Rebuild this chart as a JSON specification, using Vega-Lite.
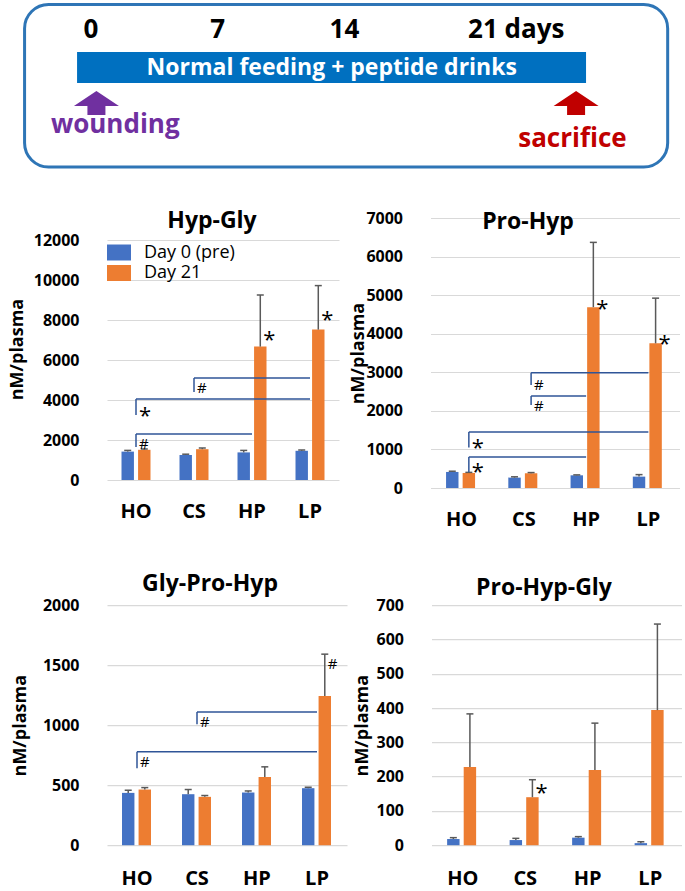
{
  "$schema": "https://vega.github.io/schema/vega-lite/v6.json",
  "background": "white",
  "padding": {"left": 8, "top": 0, "right": 0, "bottom": 0},
  "spacing": 36,
  "columns": 1,
  "align": "none",
  "resolve": {"scale": {"color": "independent"}, "legend": {"color": "independent"}},
  "config": {
    "font": "Open Sans",
    "view": {"stroke": null},
    "axis": {"domain": false, "ticks": false, "tickSize": 0, "labelFont": "Open Sans", "labelFontWeight": "bold", "labelColor": "#000000", "titleFont": "Open Sans", "titleFontWeight": "bold", "titleColor": "#000000", "titleFontSize": 18},
    "axisY": {"grid": true, "gridColor": "#D9D9D9", "gridWidth": 1.2, "labelFontSize": 16, "labelPadding": 28, "labelOverlap": false},
    "axisX": {"grid": false, "labelFontSize": 20, "labelAngle": 0, "labelPadding": 21},
    "title": {"font": "Open Sans", "fontSize": 23, "fontWeight": "bold", "color": "#000000", "anchor": "middle", "frame": "group", "baseline": "alphabetic"},
    "legend": {"labelFont": "Open Sans", "labelFontSize": 18, "labelColor": "#000000", "padding": 0, "rowPadding": 2.5, "symbolStrokeWidth": 0},
    "text": {"font": "Open Sans", "color": "#000000"}
  },
  "datasets": {
    "tlDays": [{"day": 0, "label": "0"}, {"day": 7, "label": "7"}, {"day": 14, "label": "14"}, {"day": 21, "label": "21 days"}],
    "tlPhase": [{"start": -0.77, "end": 27.35, "mid": 13.3, "text": "Normal feeding + peptide drinks"}],
    "tlEvents": [{"event": "wounding", "arrow": 0.3, "labelPos": 1.34}, {"event": "sacrifice", "arrow": 26.8, "labelPos": 26.6}],
    "hg": [
      {"group": "HO", "day": "Day 0 (pre)", "value": 1420, "upper": 1480},
      {"group": "HO", "day": "Day 21", "value": 1510, "upper": 1550},
      {"group": "CS", "day": "Day 0 (pre)", "value": 1250, "upper": 1290},
      {"group": "CS", "day": "Day 21", "value": 1540, "upper": 1600},
      {"group": "HP", "day": "Day 0 (pre)", "value": 1380, "upper": 1480},
      {"group": "HP", "day": "Day 21", "value": 6670, "upper": 9250},
      {"group": "LP", "day": "Day 0 (pre)", "value": 1460, "upper": 1500},
      {"group": "LP", "day": "Day 21", "value": 7520, "upper": 9720}
    ],
    "hgBr": [
      {"from": "CS", "to": "LP", "level": 5100, "drop": 4400},
      {"from": "HO", "to": "LP", "level": 4050, "drop": 3250},
      {"from": "HO", "to": "HP", "level": 2300, "drop": 1650}
    ],
    "hgNotes": [
      {"group": "HP", "on": "bar", "sig": "*", "at": 7300},
      {"group": "LP", "on": "bar", "sig": "*", "at": 8300},
      {"group": "CS", "on": "bracket", "sig": "#", "at": 4650},
      {"group": "HO", "on": "bracket", "sig": "*", "at": 3500},
      {"group": "HO", "on": "bracket", "sig": "#", "at": 1850}
    ],
    "ph": [
      {"group": "HO", "day": "Day 0 (pre)", "value": 416, "upper": 435},
      {"group": "HO", "day": "Day 21", "value": 390, "upper": 405},
      {"group": "CS", "day": "Day 0 (pre)", "value": 269, "upper": 290},
      {"group": "CS", "day": "Day 21", "value": 382, "upper": 400},
      {"group": "HP", "day": "Day 0 (pre)", "value": 329, "upper": 340},
      {"group": "HP", "day": "Day 21", "value": 4688, "upper": 6368},
      {"group": "LP", "day": "Day 0 (pre)", "value": 295, "upper": 347},
      {"group": "LP", "day": "Day 21", "value": 3751, "upper": 4922}
    ],
    "phBr": [
      {"from": "CS", "to": "LP", "level": 2989, "drop": 2668},
      {"from": "CS", "to": "HP", "level": 2382, "drop": 2149},
      {"from": "HO", "to": "LP", "level": 1455, "drop": 1048},
      {"from": "HO", "to": "HP", "level": 806, "drop": 416}
    ],
    "phNotes": [
      {"group": "HP", "on": "bar", "sig": "*", "at": 4792},
      {"group": "LP", "on": "bar", "sig": "*", "at": 3882},
      {"group": "CS", "on": "bracket", "sig": "#", "at": 2694},
      {"group": "CS", "on": "bracket", "sig": "#", "at": 2149},
      {"group": "HO", "on": "bracket", "sig": "*", "at": 1196},
      {"group": "HO", "on": "bracket", "sig": "*", "at": 563}
    ],
    "gph": [
      {"group": "HO", "day": "Day 0 (pre)", "value": 436, "upper": 458},
      {"group": "HO", "day": "Day 21", "value": 464, "upper": 480},
      {"group": "CS", "day": "Day 0 (pre)", "value": 425, "upper": 464},
      {"group": "CS", "day": "Day 21", "value": 403, "upper": 414},
      {"group": "HP", "day": "Day 0 (pre)", "value": 439, "upper": 452},
      {"group": "HP", "day": "Day 21", "value": 569, "upper": 653},
      {"group": "LP", "day": "Day 0 (pre)", "value": 475, "upper": 483},
      {"group": "LP", "day": "Day 21", "value": 1244, "upper": 1592}
    ],
    "gphBr": [
      {"from": "CS", "to": "LP", "level": 1111, "drop": 1008},
      {"from": "HO", "to": "LP", "level": 778, "drop": 642}
    ],
    "gphNotes": [
      {"group": "LP", "on": "bar", "sig": "#", "at": 1517},
      {"group": "CS", "on": "bracket", "sig": "#", "at": 1036},
      {"group": "HO", "on": "bracket", "sig": "#", "at": 702}
    ],
    "phg": [
      {"group": "HO", "day": "Day 0 (pre)", "value": 18, "upper": 22},
      {"group": "HO", "day": "Day 21", "value": 228, "upper": 383},
      {"group": "CS", "day": "Day 0 (pre)", "value": 15, "upper": 20},
      {"group": "CS", "day": "Day 21", "value": 140, "upper": 191},
      {"group": "HP", "day": "Day 0 (pre)", "value": 22, "upper": 25},
      {"group": "HP", "day": "Day 21", "value": 219, "upper": 356},
      {"group": "LP", "day": "Day 0 (pre)", "value": 6, "upper": 10},
      {"group": "LP", "day": "Day 21", "value": 394, "upper": 645}
    ],
    "phgNotes": [
      {"group": "CS", "on": "bar", "sig": "*", "at": 171}
    ]
  },
  "concat": [
    {
      "width": 573,
      "height": 173,
      "layer": [
        {
          "data": {"values": [{"part": "frame"}]},
          "mark": {"type": "rect", "filled": false, "stroke": "#2E75B6", "strokeWidth": 3, "cornerRadius": 24},
          "encoding": {
            "x": {"datum": -3.67, "type": "quantitative", "scale": {"domain": [0.884, 32.541], "nice": false, "zero": false}, "axis": null},
            "x2": {"datum": 31.86},
            "y": {"datum": 4.5, "type": "quantitative", "scale": {"domain": [0, 173], "reverse": true, "nice": false, "zero": false}, "axis": null},
            "y2": {"datum": 167}
          }
        },
        {
          "data": {"name": "tlPhase"},
          "mark": {"type": "rect", "color": "#0070C0"},
          "encoding": {
            "x": {"field": "start", "type": "quantitative"},
            "x2": {"field": "end"},
            "y": {"datum": 52, "type": "quantitative"},
            "y2": {"datum": 83}
          }
        },
        {
          "data": {"name": "tlPhase"},
          "mark": {"type": "text", "color": "#FFFFFF", "fontSize": 23, "fontWeight": "bold"},
          "encoding": {
            "x": {"field": "mid", "type": "quantitative"},
            "y": {"datum": 68.3, "type": "quantitative"},
            "text": {"field": "text"}
          }
        },
        {
          "data": {"name": "tlDays"},
          "transform": [{"filter": "datum.day < 21"}],
          "mark": {"type": "text", "fontSize": 26, "fontWeight": "bold"},
          "encoding": {
            "x": {"field": "day", "type": "quantitative"},
            "y": {"datum": 29.5, "type": "quantitative"},
            "text": {"field": "label"}
          }
        },
        {
          "data": {"name": "tlDays"},
          "transform": [{"filter": "datum.day >= 21"}],
          "mark": {"type": "text", "fontSize": 26, "fontWeight": "bold", "align": "left", "dx": -3},
          "encoding": {
            "x": {"field": "day", "type": "quantitative"},
            "y": {"datum": 29.5, "type": "quantitative"},
            "text": {"field": "label"}
          }
        },
        {
          "data": {"name": "tlEvents"},
          "mark": {"type": "point", "shape": "M0,-0.533L1,0.133L0.4,0.133L0.4,0.533L-0.4,0.533L-0.4,0.133L-1,0.133Z", "size": 2025, "filled": true, "opacity": 1, "strokeWidth": 0},
          "encoding": {
            "x": {"field": "arrow", "type": "quantitative"},
            "y": {"datum": 103, "type": "quantitative"},
            "color": {"field": "event", "type": "nominal", "scale": {"domain": ["wounding", "sacrifice"], "range": ["#7030A0", "#C00000"]}, "legend": null}
          }
        },
        {
          "data": {"name": "tlEvents"},
          "transform": [{"filter": "datum.event === 'wounding'"}],
          "mark": {"type": "text", "fontSize": 26, "fontWeight": "bold", "baseline": "alphabetic"},
          "encoding": {
            "x": {"field": "labelPos", "type": "quantitative"},
            "y": {"datum": 133, "type": "quantitative"},
            "text": {"field": "event"},
            "color": {"field": "event", "type": "nominal", "legend": null}
          }
        },
        {
          "data": {"name": "tlEvents"},
          "transform": [{"filter": "datum.event === 'sacrifice'"}],
          "mark": {"type": "text", "fontSize": 26, "fontWeight": "bold", "baseline": "alphabetic"},
          "encoding": {
            "x": {"field": "labelPos", "type": "quantitative"},
            "y": {"datum": 146.5, "type": "quantitative"},
            "text": {"field": "event"},
            "color": {"field": "event", "type": "nominal", "legend": null}
          }
        }
      ]
    },
    {
      "spacing": 43.2,
      "resolve": {"scale": {"color": "independent"}, "legend": {"color": "independent"}},
      "vconcat": [
        {
          "spacing": 10.5,
          "resolve": {"scale": {"color": "independent"}, "legend": {"color": "independent"}},
          "hconcat": [
            {
              "width": 232,
              "height": 262,
              "title": {"text": "Hyp-Gly", "offset": -14.6, "dx": -11},
              "layer": [
                {
                  "data": {"name": "hg"},
                  "mark": {"type": "bar"},
                  "encoding": {
                    "x": {"field": "group", "type": "nominal", "title": null, "scale": {"domain": ["HO", "CS", "HP", "LP"], "paddingInner": 0.5, "paddingOuter": 0.25}, "axis": {"labelPadding": 21}},
                    "xOffset": {"field": "day", "type": "nominal", "scale": {"domain": ["Day 0 (pre)", "Day 21"], "paddingInner": 0.25, "paddingOuter": 0}},
                    "y": {"field": "value", "type": "quantitative", "title": "nM/plasma", "scale": {"domain": [0, 13100], "nice": false}, "axis": {"values": [0, 2000, 4000, 6000, 8000, 10000, 12000], "tickCount": 20, "format": "d", "titleX": -80.5}},
                    "color": {"field": "day", "type": "nominal", "scale": {"domain": ["Day 0 (pre)", "Day 21"], "range": ["#4472C4", "#ED7D31"]},
                      "legend": {"title": null, "orient": "none", "legendX": 3, "legendY": 25.5, "symbolType": "M-1.5,-1H1.5V1H-1.5Z", "symbolSize": 256, "labelOffset": 16, "direction": "vertical"}}
                  }
                },
                {
                  "data": {"name": "hg"},
                  "mark": {"type": "rule", "color": "#595959", "strokeWidth": 1.5},
                  "encoding": {
                    "x": {"field": "group", "type": "nominal", "title": null},
                    "xOffset": {"field": "day", "type": "nominal"},
                    "y": {"field": "value", "type": "quantitative", "title": "nM/plasma"},
                    "y2": {"field": "upper"}
                  }
                },
                {
                  "data": {"name": "hg"},
                  "mark": {"type": "tick", "orient": "horizontal", "color": "#595959", "thickness": 1.5, "size": 7, "opacity": 1},
                  "encoding": {
                    "x": {"field": "group", "type": "nominal", "title": null},
                    "xOffset": {"field": "day", "type": "nominal"},
                    "y": {"field": "upper", "type": "quantitative", "title": "nM/plasma"}
                  }
                },
                {
                  "data": {"name": "hgBr"},
                  "mark": {"type": "rule", "color": "#2F5597", "strokeWidth": 1.5},
                  "encoding": {
                    "x": {"field": "from", "type": "nominal", "title": null},
                    "x2": {"field": "to"},
                    "y": {"field": "level", "type": "quantitative", "title": "nM/plasma"}
                  }
                },
                {
                  "data": {"name": "hgBr"},
                  "mark": {"type": "rule", "color": "#2F5597", "strokeWidth": 1.5},
                  "encoding": {
                    "x": {"field": "from", "type": "nominal", "title": null},
                    "y": {"field": "level", "type": "quantitative", "title": "nM/plasma"},
                    "y2": {"field": "drop"}
                  }
                },
                {
                  "data": {"name": "hgNotes"},
                  "transform": [{"filter": "datum.on === 'bar' && datum.sig === '*'"}],
                  "mark": {"type": "text", "align": "left", "dx": 3, "dy": 6, "fontSize": 22},
                  "encoding": {
                    "x": {"field": "group", "type": "nominal", "title": null},
                    "xOffset": {"datum": "Day 21", "type": "nominal"},
                    "y": {"field": "at", "type": "quantitative", "title": "nM/plasma"},
                    "text": {"field": "sig"}
                  }
                },
                {
                  "data": {"name": "hgNotes"},
                  "transform": [{"filter": "datum.on === 'bracket' && datum.sig === '*'"}],
                  "mark": {"type": "text", "align": "left", "dx": 3, "dy": 6, "fontSize": 22},
                  "encoding": {
                    "x": {"field": "group", "type": "nominal", "title": null},
                    "y": {"field": "at", "type": "quantitative", "title": "nM/plasma"},
                    "text": {"field": "sig"}
                  }
                },
                {
                  "data": {"name": "hgNotes"},
                  "transform": [{"filter": "datum.on === 'bracket' && datum.sig === '#'"}],
                  "mark": {"type": "text", "align": "left", "dx": 3, "dy": 1, "fontSize": 15},
                  "encoding": {
                    "x": {"field": "group", "type": "nominal", "title": null},
                    "y": {"field": "at", "type": "quantitative", "title": "nM/plasma"},
                    "text": {"field": "sig"}
                  }
                }
              ]
            },
            {
              "width": 249,
              "height": 270,
              "title": {"text": "Pro-Hyp", "offset": -24.1, "dx": -27},
              "layer": [
                {
                  "data": {"name": "ph"},
                  "mark": {"type": "bar"},
                  "encoding": {
                    "x": {"field": "group", "type": "nominal", "title": null, "scale": {"domain": ["HO", "CS", "HP", "LP"], "paddingInner": 0.5, "paddingOuter": 0.25}, "axis": {"labelPadding": 21}},
                    "xOffset": {"field": "day", "type": "nominal", "scale": {"domain": ["Day 0 (pre)", "Day 21"], "paddingInner": 0.25, "paddingOuter": 0}},
                    "y": {"field": "value", "type": "quantitative", "title": "nM/plasma", "scale": {"domain": [0, 7000], "nice": false}, "axis": {"values": [0, 1000, 2000, 3000, 4000, 5000, 6000, 7000], "tickCount": 20, "format": "d", "titleX": -63}},
                    "color": {"field": "day", "type": "nominal", "scale": {"domain": ["Day 0 (pre)", "Day 21"], "range": ["#4472C4", "#ED7D31"]}, "legend": null}
                  }
                },
                {
                  "data": {"name": "ph"},
                  "mark": {"type": "rule", "color": "#595959", "strokeWidth": 1.5},
                  "encoding": {
                    "x": {"field": "group", "type": "nominal", "title": null},
                    "xOffset": {"field": "day", "type": "nominal"},
                    "y": {"field": "value", "type": "quantitative", "title": "nM/plasma"},
                    "y2": {"field": "upper"}
                  }
                },
                {
                  "data": {"name": "ph"},
                  "mark": {"type": "tick", "orient": "horizontal", "color": "#595959", "thickness": 1.5, "size": 7, "opacity": 1},
                  "encoding": {
                    "x": {"field": "group", "type": "nominal", "title": null},
                    "xOffset": {"field": "day", "type": "nominal"},
                    "y": {"field": "upper", "type": "quantitative", "title": "nM/plasma"}
                  }
                },
                {
                  "data": {"name": "phBr"},
                  "mark": {"type": "rule", "color": "#2F5597", "strokeWidth": 1.5},
                  "encoding": {
                    "x": {"field": "from", "type": "nominal", "title": null},
                    "x2": {"field": "to"},
                    "xOffset": {"datum": "Day 21", "type": "nominal"},
                    "y": {"field": "level", "type": "quantitative", "title": "nM/plasma"}
                  }
                },
                {
                  "data": {"name": "phBr"},
                  "mark": {"type": "rule", "color": "#2F5597", "strokeWidth": 1.5},
                  "encoding": {
                    "x": {"field": "from", "type": "nominal", "title": null},
                    "xOffset": {"datum": "Day 21", "type": "nominal"},
                    "y": {"field": "level", "type": "quantitative", "title": "nM/plasma"},
                    "y2": {"field": "drop"}
                  }
                },
                {
                  "data": {"name": "phNotes"},
                  "transform": [{"filter": "datum.sig === '*'"}],
                  "mark": {"type": "text", "align": "left", "dx": 3, "dy": 6, "fontSize": 22},
                  "encoding": {
                    "x": {"field": "group", "type": "nominal", "title": null},
                    "xOffset": {"datum": "Day 21", "type": "nominal"},
                    "y": {"field": "at", "type": "quantitative", "title": "nM/plasma"},
                    "text": {"field": "sig"}
                  }
                },
                {
                  "data": {"name": "phNotes"},
                  "transform": [{"filter": "datum.sig === '#'"}],
                  "mark": {"type": "text", "align": "left", "dx": 3, "dy": 1, "fontSize": 15},
                  "encoding": {
                    "x": {"field": "group", "type": "nominal", "title": null},
                    "xOffset": {"datum": "Day 21", "type": "nominal"},
                    "y": {"field": "at", "type": "quantitative", "title": "nM/plasma"},
                    "text": {"field": "sig"}
                  }
                }
              ]
            }
          ]
        },
        {
          "spacing": 6.5,
          "resolve": {"scale": {"color": "independent"}, "legend": {"color": "independent"}},
          "hconcat": [
            {
              "width": 240,
              "height": 240,
              "title": {"text": "Gly-Pro-Hyp", "offset": 1.4, "dx": -17},
              "layer": [
                {
                  "data": {"name": "gph"},
                  "mark": {"type": "bar"},
                  "encoding": {
                    "x": {"field": "group", "type": "nominal", "title": null, "scale": {"domain": ["HO", "CS", "HP", "LP"], "paddingInner": 0.5, "paddingOuter": 0.25}, "axis": {"labelPadding": 23}},
                    "xOffset": {"field": "day", "type": "nominal", "scale": {"domain": ["Day 0 (pre)", "Day 21"], "paddingInner": 0.25, "paddingOuter": 0}},
                    "y": {"field": "value", "type": "quantitative", "title": "nM/plasma", "scale": {"domain": [0, 2000], "nice": false}, "axis": {"values": [0, 500, 1000, 1500, 2000], "tickCount": 20, "format": "d", "titleX": -78}},
                    "color": {"field": "day", "type": "nominal", "scale": {"domain": ["Day 0 (pre)", "Day 21"], "range": ["#4472C4", "#ED7D31"]}, "legend": null}
                  }
                },
                {
                  "data": {"name": "gph"},
                  "mark": {"type": "rule", "color": "#595959", "strokeWidth": 1.5},
                  "encoding": {
                    "x": {"field": "group", "type": "nominal", "title": null},
                    "xOffset": {"field": "day", "type": "nominal"},
                    "y": {"field": "value", "type": "quantitative", "title": "nM/plasma"},
                    "y2": {"field": "upper"}
                  }
                },
                {
                  "data": {"name": "gph"},
                  "mark": {"type": "tick", "orient": "horizontal", "color": "#595959", "thickness": 1.5, "size": 7, "opacity": 1},
                  "encoding": {
                    "x": {"field": "group", "type": "nominal", "title": null},
                    "xOffset": {"field": "day", "type": "nominal"},
                    "y": {"field": "upper", "type": "quantitative", "title": "nM/plasma"}
                  }
                },
                {
                  "data": {"name": "gphBr"},
                  "mark": {"type": "rule", "color": "#2F5597", "strokeWidth": 1.5},
                  "encoding": {
                    "x": {"field": "from", "type": "nominal", "title": null},
                    "x2": {"field": "to"},
                    "y": {"field": "level", "type": "quantitative", "title": "nM/plasma"}
                  }
                },
                {
                  "data": {"name": "gphBr"},
                  "mark": {"type": "rule", "color": "#2F5597", "strokeWidth": 1.5},
                  "encoding": {
                    "x": {"field": "from", "type": "nominal", "title": null},
                    "y": {"field": "level", "type": "quantitative", "title": "nM/plasma"},
                    "y2": {"field": "drop"}
                  }
                },
                {
                  "data": {"name": "gphNotes"},
                  "transform": [{"filter": "datum.on === 'bar' && datum.sig === '#'"}],
                  "mark": {"type": "text", "align": "left", "dx": 3, "dy": 1, "fontSize": 15},
                  "encoding": {
                    "x": {"field": "group", "type": "nominal", "title": null},
                    "xOffset": {"datum": "Day 21", "type": "nominal"},
                    "y": {"field": "at", "type": "quantitative", "title": "nM/plasma"},
                    "text": {"field": "sig"}
                  }
                },
                {
                  "data": {"name": "gphNotes"},
                  "transform": [{"filter": "datum.on === 'bracket' && datum.sig === '#'"}],
                  "mark": {"type": "text", "align": "left", "dx": 3, "dy": 1, "fontSize": 15},
                  "encoding": {
                    "x": {"field": "group", "type": "nominal", "title": null},
                    "y": {"field": "at", "type": "quantitative", "title": "nM/plasma"},
                    "text": {"field": "sig"}
                  }
                }
              ]
            },
            {
              "width": 250,
              "height": 240,
              "title": {"text": "Pro-Hyp-Gly", "offset": -2.6, "dx": -12.5},
              "layer": [
                {
                  "data": {"name": "phg"},
                  "mark": {"type": "bar"},
                  "encoding": {
                    "x": {"field": "group", "type": "nominal", "title": null, "scale": {"domain": ["HO", "CS", "HP", "LP"], "paddingInner": 0.5, "paddingOuter": 0.25}, "axis": {"labelPadding": 23}},
                    "xOffset": {"field": "day", "type": "nominal", "scale": {"domain": ["Day 0 (pre)", "Day 21"], "paddingInner": 0.25, "paddingOuter": 0}},
                    "y": {"field": "value", "type": "quantitative", "title": "nM/plasma", "scale": {"domain": [0, 700], "nice": false}, "axis": {"values": [0, 100, 200, 300, 400, 500, 600, 700], "tickCount": 20, "format": "d", "titleX": -60}},
                    "color": {"field": "day", "type": "nominal", "scale": {"domain": ["Day 0 (pre)", "Day 21"], "range": ["#4472C4", "#ED7D31"]}, "legend": null}
                  }
                },
                {
                  "data": {"name": "phg"},
                  "mark": {"type": "rule", "color": "#595959", "strokeWidth": 1.5},
                  "encoding": {
                    "x": {"field": "group", "type": "nominal", "title": null},
                    "xOffset": {"field": "day", "type": "nominal"},
                    "y": {"field": "value", "type": "quantitative", "title": "nM/plasma"},
                    "y2": {"field": "upper"}
                  }
                },
                {
                  "data": {"name": "phg"},
                  "mark": {"type": "tick", "orient": "horizontal", "color": "#595959", "thickness": 1.5, "size": 7, "opacity": 1},
                  "encoding": {
                    "x": {"field": "group", "type": "nominal", "title": null},
                    "xOffset": {"field": "day", "type": "nominal"},
                    "y": {"field": "upper", "type": "quantitative", "title": "nM/plasma"}
                  }
                },
                {
                  "data": {"name": "phgNotes"},
                  "mark": {"type": "text", "align": "left", "dx": 3, "dy": 6, "fontSize": 22},
                  "encoding": {
                    "x": {"field": "group", "type": "nominal", "title": null},
                    "xOffset": {"datum": "Day 21", "type": "nominal"},
                    "y": {"field": "at", "type": "quantitative", "title": "nM/plasma"},
                    "text": {"field": "sig"}
                  }
                }
              ]
            }
          ]
        }
      ]
    }
  ]
}
